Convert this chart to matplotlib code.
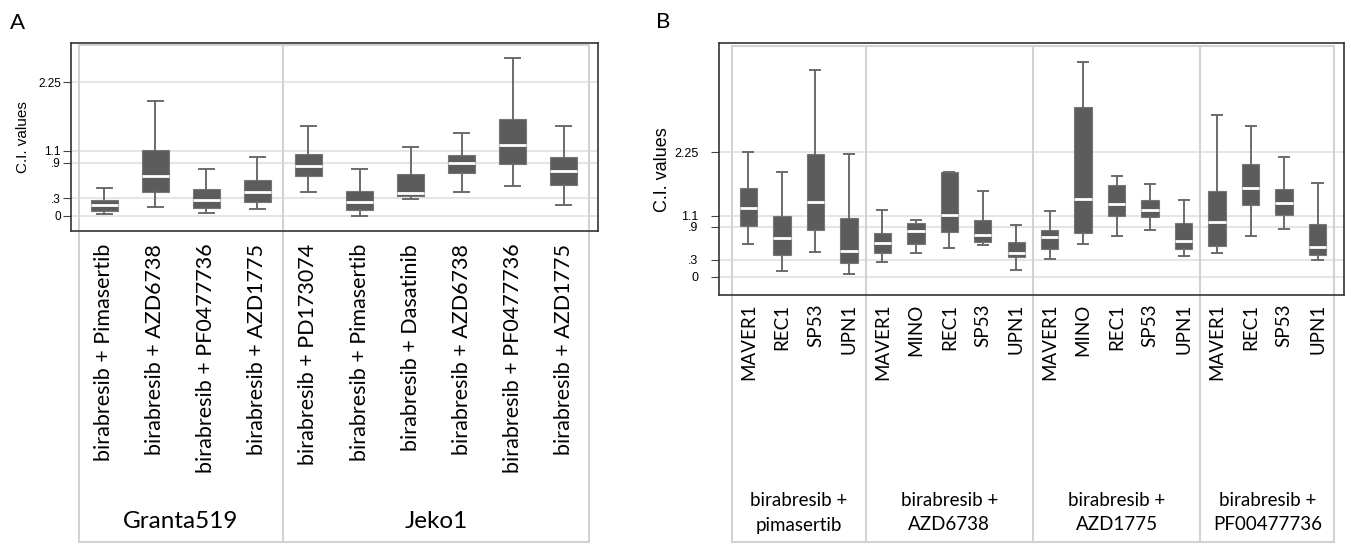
import matplotlib
matplotlib.use("Agg")
import matplotlib.pyplot as plt
import matplotlib.transforms as mtransforms

# ---- Panel A data ----
a_labels = ["birabresib + Pimasertib", "birabresib + AZD6738", "birabresib + PF0477736",
            "birabresib + AZD1775", "birabresib + PD173074", "birabresib + Pimasertib",
            "birabresib + Dasatinib", "birabresib + AZD6738", "birabresib + PF0477736",
            "birabresib + AZD1775"]
a_groups = ["Granta519", "Jeko1"]
a_group_sizes = [4, 6]
a_whislo = [0.04, 0.15, 0.05, 0.12, 0.40, 0.00, 0.29, 0.41, 0.51, 0.18]
a_q1 = [0.09, 0.41, 0.13, 0.24, 0.67, 0.10, 0.34, 0.73, 0.88, 0.52]
a_med = [0.19, 0.67, 0.27, 0.40, 0.84, 0.24, 0.39, 0.90, 1.19, 0.76]
a_q3 = [0.26, 1.11, 0.46, 0.61, 1.04, 0.42, 0.71, 1.03, 1.63, 1.00]
a_whishi = [0.47, 1.93, 0.79, 1.00, 1.51, 0.79, 1.16, 1.39, 2.67, 1.52]

# ---- Panel B data ----
b_labels = ["MAVER1", "REC1", "SP53", "UPN1",
            "MAVER1", "MINO", "REC1", "SP53", "UPN1",
            "MAVER1", "MINO", "REC1", "SP53", "UPN1",
            "MAVER1", "REC1", "SP53", "UPN1"]
b_groups = ["birabresib +\npimasertib", "birabresib +\nAZD6738",
            "birabresib +\nAZD1775", "birabresib +\nPF00477736"]
b_group_sizes = [4, 5, 5, 4]
b_whislo = [0.58, 0.10, 0.45, 0.05, 0.27, 0.43, 0.51, 0.57, 0.11,
            0.31, 0.58, 0.73, 0.84, 0.37, 0.42, 0.74, 0.86, 0.29]
b_q1 = [0.91, 0.39, 0.84, 0.25, 0.43, 0.58, 0.81, 0.62, 0.36,
        0.49, 0.78, 1.10, 1.07, 0.49, 0.55, 1.30, 1.11, 0.39]
b_med = [1.24, 0.69, 1.35, 0.47, 0.60, 0.82, 1.12, 0.75, 0.43,
         0.71, 1.40, 1.32, 1.21, 0.65, 0.98, 1.61, 1.33, 0.54]
b_q3 = [1.61, 1.10, 2.22, 1.06, 0.78, 0.97, 1.90, 1.02, 0.62,
        0.84, 3.06, 1.66, 1.38, 0.96, 1.54, 2.03, 1.59, 0.95]
b_whishi = [2.26, 1.90, 3.73, 2.22, 1.20, 1.02, 1.90, 1.54, 0.93,
            1.18, 3.88, 1.82, 1.68, 1.39, 2.93, 2.73, 2.16, 1.70]

y_ticks = [0, 0.3, 0.9, 1.1, 2.25]
y_ticklabels = ["0", ".3", ".9", "1.1", "2.25"]

W, H = 1351, 545
BOX_COLOR = "#5c5c5c"
WHISK_COLOR = "#6b6b6b"
GRID_COLOR = "#e3e3e3"
FRAME_GRAY = "#d2d2d2"


def px_rect(left, top, right, bottom):
    return [left / W, 1 - bottom / H, (right - left) / W, (bottom - top) / H]


def draw_panel(fig, rect, whislo, q1, med, q3, whishi, labels, groups, sizes,
               xlim, ylim, inner_top_px, bottom_px, group_y_px,
               xfs, gfs, ytick_fs, ytick_pad, xpad, ylab_x_px, ylab_fs):
    ax = fig.add_axes(rect)
    stats = []
    for i in range(len(med)):
        stats.append(dict(whislo=whislo[i], q1=q1[i], med=med[i], q3=q3[i],
                          whishi=whishi[i], fliers=[]))
    pos = list(range(len(med)))
    ax.bxp(stats, positions=pos, widths=0.52, capwidths=0.3, patch_artist=True,
           showfliers=False,
           boxprops=dict(facecolor=BOX_COLOR, edgecolor="#777777", linewidth=0.8),
           medianprops=dict(color="white", linewidth=2.0),
           whiskerprops=dict(color=WHISK_COLOR, linewidth=1.4),
           capprops=dict(color=WHISK_COLOR, linewidth=1.4), zorder=3)

    ax.set_xlim(*xlim)
    ax.set_ylim(*ylim)
    ax.set_yticks(y_ticks)
    ax.set_yticklabels(y_ticklabels, fontfamily="Liberation Sans", fontsize=ytick_fs)
    ax.tick_params(axis="y", length=6, width=0.8, color="#444444", pad=ytick_pad)
    ax.set_xticks(pos)
    ax.set_xticklabels(labels, rotation=90, fontfamily="Lato", fontsize=xfs)
    ax.tick_params(axis="x", length=0, pad=xpad)
    for y in y_ticks:
        ax.axhline(y, color=GRID_COLOR, lw=1.3, zorder=0)
    for s in ax.spines.values():
        s.set_color("#333333")
        s.set_linewidth(1.2)

    # gray plot-region frame that extends down through the label area
    tr = mtransforms.blended_transform_factory(ax.transData, fig.transFigure)
    y_top = 1 - inner_top_px / H
    y_bot = 1 - bottom_px / H
    bounds = [-0.5]
    for n in sizes:
        bounds.append(bounds[-1] + n)
    for b in bounds:
        ax.plot([b, b], [y_top, y_bot], transform=tr, color=FRAME_GRAY,
                lw=1.5, clip_on=False, zorder=1)
    for yy in (y_top, y_bot):
        ax.plot([bounds[0], bounds[-1]], [yy, yy], transform=tr, color=FRAME_GRAY,
                lw=1.5, clip_on=False, zorder=1)
    for g, lo, hi in zip(groups, bounds[:-1], bounds[1:]):
        ax.text((lo + hi) / 2, 1 - group_y_px / H, g, transform=tr, ha="center",
                va="center", fontfamily="Lato", fontsize=gfs, linespacing=1.5)

    cy = 1 - (rect_top_px(rect) + rect_bot_px(rect)) / 2 / H
    fig.text(ylab_x_px / W, cy, "C.I. values", rotation=90, ha="center", va="center",
             fontfamily="Liberation Sans", fontsize=ylab_fs)
    return ax


def rect_top_px(rect):
    return (1 - rect[1] - rect[3]) * H


def rect_bot_px(rect):
    return (1 - rect[1]) * H


fig = plt.figure(figsize=(W / 100, H / 100), dpi=100)

draw_panel(fig, px_rect(71.3, 42.7, 597.7, 231.3),
           a_whislo, a_q1, a_med, a_q3, a_whishi, a_labels, a_groups, a_group_sizes,
           xlim=(-0.645, 9.665), ylim=(-0.26, 2.92), inner_top_px=45, bottom_px=542,
           group_y_px=522, xfs=15.5, gfs=17.5, ytick_fs=8.5, ytick_pad=1.5, xpad=9,
           ylab_x_px=22.7, ylab_fs=11)

draw_panel(fig, px_rect(719, 43.3, 1344.3, 295.3),
           b_whislo, b_q1, b_med, b_q3, b_whishi, b_labels, b_groups, b_group_sizes,
           xlim=(-0.879, 17.80), ylim=(-0.34, 4.22), inner_top_px=46, bottom_px=542,
           group_y_px=513, xfs=13.5, gfs=13.5, ytick_fs=9, ytick_pad=9, xpad=6,
           ylab_x_px=662.5, ylab_fs=13)

fig.text(17.7 / W, 1 - 22.7 / H, "A", ha="center", va="center", fontfamily="Lato", fontsize=16)
fig.text(663 / W, 1 - 22 / H, "B", ha="center", va="center", fontfamily="Lato", fontsize=16)

fig.savefig("out.png", dpi=100)
